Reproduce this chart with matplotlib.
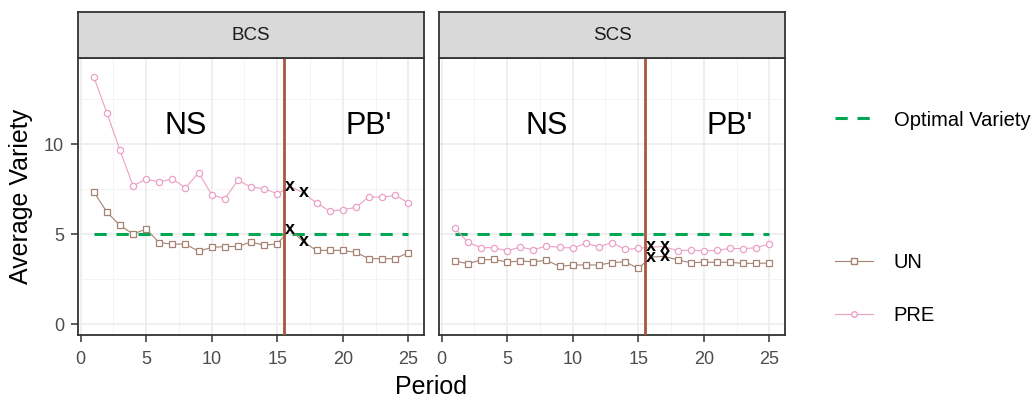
import numpy as np
import matplotlib
matplotlib.use('Agg')
import matplotlib.pyplot as plt
from matplotlib.lines import Line2D

plt.rcParams['font.family'] = ['Liberation Sans', 'DejaVu Sans']

# data ------------------------------------------------------------------------
period = np.arange(1, 26)
panels = ['BCS', 'SCS']
x_marked = [16, 17]  # periods drawn with an "x" instead of the open marker

un_bcs = [7.35, 6.22, 5.48, 5.00, 5.28, 4.52, 4.44, 4.44, 4.04, 4.26, 4.30, 4.31, 4.56,
          4.37, 4.46, 5.26, 4.56, 4.09, 4.09, 4.09, 3.98, 3.63, 3.63, 3.63, 3.96]
pre_bcs = [13.74, 11.74, 9.65, 7.68, 8.05, 7.89, 8.07, 7.56, 8.41, 7.19, 6.96, 7.98, 7.61,
           7.52, 7.24, 7.63, 7.29, 6.72, 6.28, 6.35, 6.48, 7.07, 7.04, 7.15, 6.74]
un_scs = [3.50, 3.35, 3.56, 3.59, 3.44, 3.50, 3.46, 3.54, 3.20, 3.28, 3.28, 3.28, 3.41,
          3.46, 3.09, 3.72, 3.76, 3.56, 3.41, 3.43, 3.43, 3.43, 3.37, 3.37, 3.39]
pre_scs = [5.33, 4.54, 4.24, 4.24, 4.06, 4.28, 4.13, 4.33, 4.26, 4.22, 4.48, 4.30, 4.52,
           4.15, 4.20, 4.28, 4.30, 4.07, 4.11, 4.06, 4.09, 4.20, 4.19, 4.24, 4.44]
optimal = 5
switch = 15.5
labels = [(8, 11.0, 'NS'), (22, 11.0, "PB'")]

series = {'BCS': (un_bcs, pre_bcs), 'SCS': (un_scs, pre_scs)}

col_un = '#A58272'
col_pre = '#EBA0C6'
col_opt = '#00A651'
col_vline = '#A9553F'

W, H = 1035, 399
fig = plt.figure(figsize=(W / 100, H / 100), dpi=100)


def px(x0, y0, x1, y1):
    return [x0 / W, 1 - y1 / H, (x1 - x0) / W, (y1 - y0) / H]


lefts = [(78, 424), (439, 785)]
for i, name in enumerate(panels):
    x0, x1 = lefts[i]
    ax = fig.add_axes(px(x0, 58, x1, 335))
    st = fig.add_axes(px(x0, 12, x1, 58))
    st.set_facecolor('#D9D9D9')
    st.set_xticks([])
    st.set_yticks([])
    for s in st.spines.values():
        s.set_color('#333333')
        s.set_linewidth(1.3)
    st.text(0.5, 0.5, name, ha='center', va='center', fontsize=13.5, color='#1A1A1A',
            transform=st.transAxes)

    un, pre = series[name]
    un = np.array(un)
    pre = np.array(pre)
    keep = ~np.isin(period, x_marked)
    marked = np.isin(period, x_marked)

    ax.plot(period, np.full(period.size, optimal), color=col_opt, lw=2.2,
            dashes=(4, 3.2), zorder=3)
    for vals, col, mk in [(un, col_un, 's'), (pre, col_pre, 'o')]:
        ax.plot(period, vals, color=col, lw=0.8, zorder=4)
        ax.plot(period[keep], vals[keep], ls='none', marker=mk, ms=4.5, mfc='white',
                mec=col, mew=0.9, zorder=5)
        for p, v in zip(period[marked], vals[marked]):
            ax.text(p, v, 'x', ha='center', va='center', fontsize=13, fontweight='bold',
                    color='black', zorder=6)
    ax.axvline(switch, color=col_vline, lw=2, zorder=4)
    for xt, yt, t in labels:
        ax.text(xt, yt, t, ha='center', va='center', fontsize=22, color='black')

    ax.set_xlim(-0.2, 26.2)
    ax.set_ylim(-0.61, 14.78)
    ax.set_xticks([0, 5, 10, 15, 20, 25])
    ax.set_xticks(np.arange(2.5, 26, 5), minor=True)
    ax.set_yticks([0, 5, 10])
    ax.set_yticks([2.5, 7.5, 12.5], minor=True)
    ax.grid(which='major', color='#EBEBEB', lw=1.1, zorder=0)
    ax.grid(which='minor', color='#F2F2F2', lw=0.6, zorder=0)
    ax.set_axisbelow(True)
    for s in ax.spines.values():
        s.set_color('#333333')
        s.set_linewidth(1.3)
    ax.tick_params(which='major', length=5, width=1.1, color='#333333',
                   labelsize=13, labelcolor='#4D4D4D')
    ax.tick_params(axis='x', which='major', pad=6.5)
    ax.tick_params(axis='y', which='major', pad=5)
    ax.tick_params(which='minor', length=0)
    if i == 0:
        ax.set_ylabel('Average Variety', fontsize=18)
        ax.yaxis.set_label_coords(-0.130, 0.5)
    else:
        ax.tick_params(axis='y', which='both', left=False, labelleft=False)

fig.text(431 / W, 1 - 387 / H, 'Period', ha='center', va='center', fontsize=18)

h_opt = [Line2D([], [], color=col_opt, lw=2.2, dashes=(4, 3.2))]
fig.legend(h_opt, ['Optimal Variety'], loc='center left', frameon=False,
           bbox_to_anchor=(817 / W, 1 - 120 / H), fontsize=14.5, handlelength=1.9,
           handletextpad=1.0)
h_grp = [Line2D([], [], color=col_un, lw=0.8, marker='s', ms=4, mfc='white', mec=col_un),
         Line2D([], [], color=col_pre, lw=0.8, marker='o', ms=4, mfc='white', mec=col_pre)]
fig.legend(h_grp, ['UN', 'PRE'], loc='center left', frameon=False,
           bbox_to_anchor=(817 / W, 1 - 289 / H), fontsize=14.5, handlelength=1.9,
           handletextpad=1.0, labelspacing=1.7)

fig.savefig('out.png', dpi=100)
